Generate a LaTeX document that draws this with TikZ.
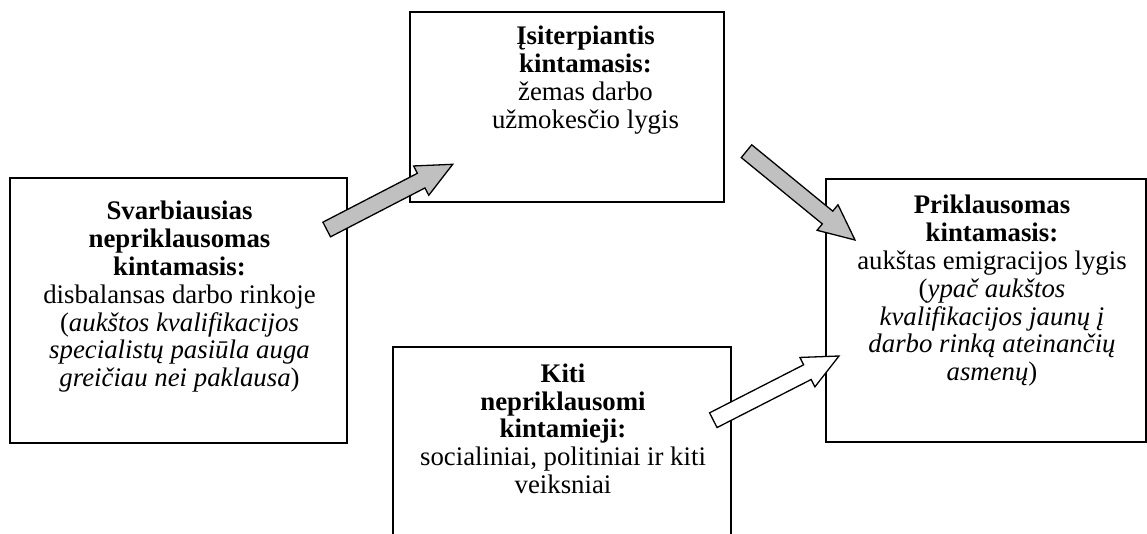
\documentclass[tikz,border=0pt]{standalone}
\usepackage{fontspec}
\setmainfont{Liberation Serif}
\usetikzlibrary{calc}
\definecolor{arrowgray}{RGB}{192,192,192}
\newcommand{\blockarr}[3]{%
  \coordinate (#2h) at ($(#3)!35.5pt!(#2)$);
  \draw[#1] ($(#2)!8.25pt!90:(#3)$) -- ($(#2h)!8.25pt!90:(#3)$) -- ($(#2h)!16.5pt!90:(#3)$) -- (#3)
    -- ($(#2h)!16.5pt!-90:(#3)$) -- ($(#2h)!8.25pt!-90:(#3)$) -- ($(#2)!8.25pt!-90:(#3)$) -- cycle;
}
\tikzset{
  box/.style={draw, line width=2pt, inner sep=0pt, outer sep=0pt, fill=white},
  txt/.style={anchor=north, align=center, inner sep=0pt, font=\fontsize{26.8}{27.8}\selectfont},
  grayarrow/.style={draw, line width=1.3pt, fill=arrowgray, line join=miter},
  whitearrow/.style={draw, line width=1.3pt, fill=white, line join=miter}
}
\begin{document}
\begin{tikzpicture}[x=1pt, y=-1pt]
\clip (0,0) rectangle (1147,533);
\fill[white] (0,0) rectangle (1147,533);
% boxes
\node[box, minimum width=337pt, minimum height=265pt] (A) at (178.5,310.5) {};
\node[box, minimum width=314pt, minimum height=190pt] (B) at (567,107) {};
\node[box, minimum width=338pt, minimum height=240pt] (C) at (562,467) {};
\node[box, minimum width=320pt, minimum height=263pt] (D) at (985.5,310.5) {};
% texts
\node[txt] (At) at (179.5,201.1) {\textbf{Svarbiausias}\\ \textbf{nepriklausomas}\\ \textbf{kintamasis:}\\ disbalansas darbo rinkoje\\ (\textit{aukštos kvalifikacijos}\\ \textit{specialistų pasiūla auga}\\ \textit{greičiau nei paklausa})};
\node[txt] (Bt) at (585.5,26.1) {\textbf{Įsiterpiantis}\\ \textbf{kintamasis:}\\ žemas darbo\\ užmokesčio lygis};
\node[txt] (Ct) at (563,363.5) {\textbf{Kiti}\\ \textbf{nepriklausomi}\\ \textbf{kintamieji:}\\ socialiniai, politiniai ir kiti\\ veiksniai};
\node[txt] (Dt) at (992,195.1) {\textbf{Priklausomas}\\ \textbf{kintamasis:}\\ aukštas emigracijos lygis\\ (\textit{ypač aukštos}\\ \textit{kvalifikacijos jaunų į}\\ \textit{darbo rinką ateinančių}\\ \textit{asmenų})};
% arrow end points
\coordinate (t1) at (326.7,229.5);
\coordinate (e1) at (452.7,164.3);
\coordinate (t2) at (746.5,151.2);
\coordinate (e2) at (855,240);
\coordinate (t3) at (713.3,420.2);
\coordinate (e3) at (839,356);
\blockarr{grayarrow}{t1}{e1}
\blockarr{grayarrow}{t2}{e2}
\blockarr{whitearrow}{t3}{e3}
\end{tikzpicture}
\end{document}
